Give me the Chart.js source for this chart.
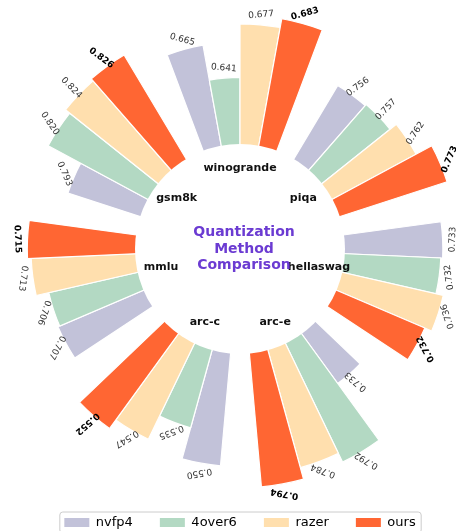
<!DOCTYPE html>
<html>
<head>
<meta charset="utf-8">
<script src="https://cdn.jsdelivr.net/npm/chart.js@4.4.0/dist/chart.umd.min.js"></script>
<style>
  html, body { margin: 0; padding: 0; background: #fff; }
  #wrap { width: 456px; height: 531px; }
</style>
</head>
<body>
<div id="wrap"><canvas id="myChart"></canvas></div>
<script>
const tasks = ['winogrande', 'piqa', 'hellaswag', 'arc-e', 'arc-c', 'mmlu', 'gsm8k'];
const methods = ['nvfp4', '4over6', 'razer', 'ours'];
const nvfp4 = [0.665, 0.756, 0.733, 0.733, 0.550, 0.707, 0.793];
const fourOver6 = [0.641, 0.757, 0.732, 0.792, 0.535, 0.706, 0.820];
const razer = [0.677, 0.762, 0.736, 0.784, 0.547, 0.713, 0.824];
const ours = [0.683, 0.773, 0.732, 0.794, 0.552, 0.715, 0.826];
const series = [nvfp4, fourOver6, razer, ours];
const colors = ['#c2c2d9', '#b3d9c3', '#ffdfae', '#ff6633'];

const innerR = 105;   // white hole radius
const barSpan = 200;  // px for a normalised value of 1
const slots = methods.length + 1; // 4 bars + 1 gap per task
const slotDeg = 360 / (tasks.length * slots);

// per task scaling, padded around the task's own min / max
function norm(v, t) {
    const vals = series.map(s => s[t]);
    const lo = Math.min(...vals) * 0.93;
    const hi = Math.max(...vals) * 1.07;
    return (v - lo) / (hi - lo);
}

const labels = [];
const values = [];
const fills = [];
const raw = [];
tasks.forEach((t, ti) => {
    series.forEach((s, si) => {
        labels.push(t + ' ' + methods[si]);
        values.push(norm(s[ti], ti));
        fills.push(colors[si]);
        raw.push({ v: s[ti], bold: si === 3 });
    });
    labels.push('');
    values.push(null);
    fills.push('rgba(0,0,0,0)');
    raw.push(null);
});

const radialText = {
    id: 'radialText',
    afterDatasetsDraw(chart) {
        const ctx = chart.ctx;
        const scale = chart.scales.r;
        const cx = scale.xCenter, cy = scale.yCenter;
        ctx.save();
        ctx.fillStyle = '#fff';
        ctx.beginPath();
        ctx.arc(cx, cy, innerR, 0, Math.PI * 2);
        ctx.fill();

        ctx.textAlign = 'center';
        ctx.textBaseline = 'middle';
        chart.getDatasetMeta(0).data.forEach((arc, i) => {
            if (!raw[i]) return;
            const a = (arc.startAngle + arc.endAngle) / 2;
            const r = arc.outerRadius + 10;
            ctx.save();
            ctx.translate(cx + r * Math.cos(a), cy + r * Math.sin(a));
            ctx.rotate(-(a + Math.PI / 2));
            ctx.font = (raw[i].bold ? 'bold ' : '') + '9px "DejaVu Sans"';
            ctx.fillStyle = raw[i].bold ? '#000' : '#333';
            ctx.fillText(raw[i].v.toFixed(3), 0, 0);
            ctx.restore();
        });

        ctx.font = 'bold 11px "DejaVu Sans"';
        ctx.fillStyle = '#111';
        tasks.forEach((t, ti) => {
            const a = -Math.PI / 2 + ti * 2 * Math.PI / tasks.length;
            ctx.fillText(t, cx + 81 * Math.cos(a), cy + 81 * Math.sin(a));
        });

        ctx.font = 'bold 14px "DejaVu Sans"';
        ctx.fillStyle = '#6b3bd2';
        ['Quantization', 'Method', 'Comparison'].forEach((line, k) => {
            ctx.fillText(line, cx + 4, cy + (k - 1) * 16.5);
        });
        ctx.restore();
    },
    afterDraw(chart) {
        const lg = chart.legend;
        if (!lg || !lg.legendHitBoxes.length) return;
        const hb = lg.legendHitBoxes;
        const first = hb[0], last = hb[hb.length - 1];
        const x0 = first.left - 5, x1 = last.left + last.width + 5;
        const yMid = first.top + first.height / 2;
        const ctx = chart.ctx;
        ctx.save();
        ctx.strokeStyle = '#cccccc';
        ctx.lineWidth = 1;
        ctx.beginPath();
        ctx.roundRect(x0 + 0.5, yMid - 10.5, x1 - x0, 21, 3);
        ctx.stroke();
        ctx.restore();
    }
};

const ctx = document.getElementById('myChart').getContext('2d');
const myChart = new Chart(ctx, {
    type: 'polarArea',
    data: {
        labels: labels,
        datasets: [{
            data: values,
            backgroundColor: fills,
            borderColor: '#ffffff',
            borderWidth: 1.2,
            clip: false
        }]
    },
    options: {
        responsive: true,
        maintainAspectRatio: false,
        animation: false,
        layout: {
            padding: { left: 24, right: 0, top: 10, bottom: -8 }
        },
        scales: {
            r: {
                display: false,
                min: -innerR / barSpan,
                max: 216 / barSpan - innerR / barSpan,
                startAngle: -2 * slotDeg,
                ticks: { display: false }
            }
        },
        plugins: {
            tooltip: { enabled: false },
            legend: {
                position: 'bottom',
                onClick: null,
                labels: {
                    boxWidth: 25,
                    boxHeight: 9,
                    padding: 27,
                    color: '#222',
                    font: { family: 'DejaVu Sans', size: 13 },
                    generateLabels: () => methods.map((m, i) => ({
                        text: m,
                        fillStyle: colors[i],
                        strokeStyle: colors[i],
                        lineWidth: 0,
                        hidden: false,
                        datasetIndex: 0
                    }))
                }
            }
        }
    },
    plugins: [radialText]
});
</script>
</body>
</html>
